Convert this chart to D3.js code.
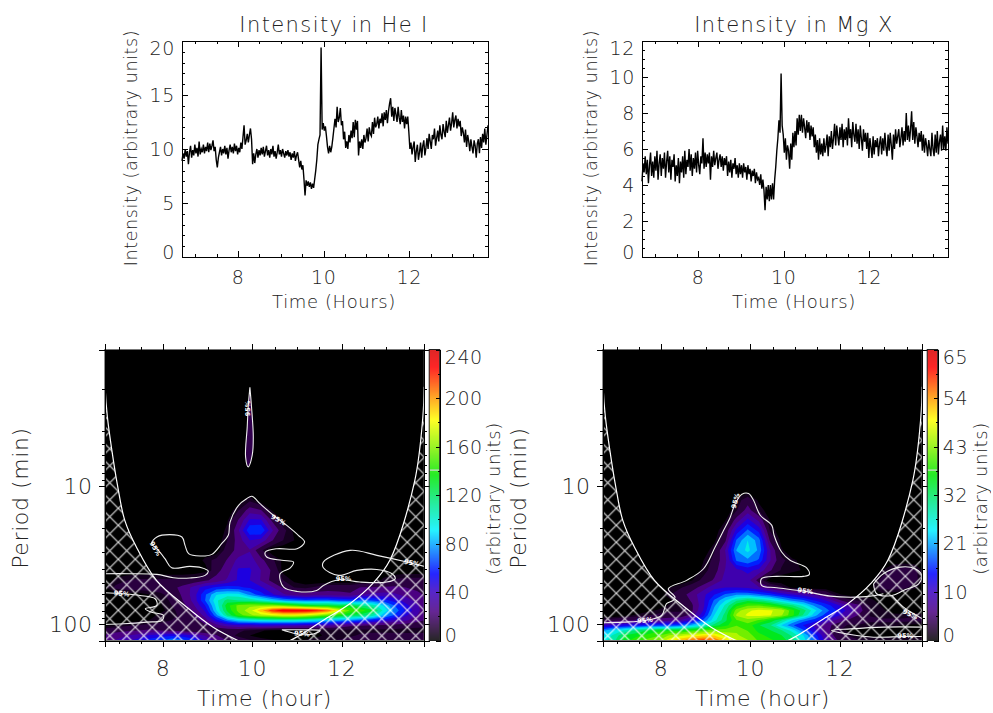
<!DOCTYPE html>
<html lang="en">
<meta charset="utf-8">
<head>
    <script src='https://d3js.org/d3.v7.min.js'></script>
    <style>
        body { margin: 0; background: #fff; }
        svg { opacity: 0.999; }
        text { font-family: "DejaVu Sans", sans-serif; font-weight: 200; fill: #222; letter-spacing: 0.6px; }
        .tick line, .domain { shape-rendering: crispEdges; }
    </style>
</head>
<body>
<svg width="993" height="713"></svg>
<script>
// light curves, one sample every 0.025 h from 6.69 h
var heIntensity = [
    8.9,9.6,9.1,10.0,9.3,9.8,8.6,9.7,10.3,9.2,
    9.9,9.4,10.4,9.6,10.1,9.3,10.7,9.5,10.0,9.7,
    10.4,9.6,10.2,9.8,10.6,9.7,10.5,9.9,10.3,10.8,
    9.8,10.2,9.0,8.3,9.2,9.7,10.2,9.4,10.0,9.6,
    10.3,9.5,10.1,9.1,9.9,10.4,9.7,10.2,9.6,10.5,
    9.8,10.3,9.5,10.1,9.7,10.6,10.0,11.1,12.2,10.4,
    10.8,11.4,10.6,11.3,11.9,10.9,8.6,9.6,8.7,9.5,
    10.0,9.2,9.9,9.4,10.1,9.5,10.2,9.3,9.8,10.3,
    9.4,9.9,9.2,10.0,9.5,10.3,9.3,9.8,9.1,9.7,
    10.4,9.5,9.9,9.3,10.0,9.6,9.2,9.8,9.4,9.9,
    9.3,9.7,9.0,9.6,9.2,9.8,8.9,9.4,9.7,9.0,
    8.3,8.9,8.1,8.5,7.2,5.7,7.1,6.6,7.0,6.5,
    6.9,6.3,6.8,6.4,7.2,8.0,9.0,10.4,10.9,11.3,
    19.4,11.8,12.4,11.7,12.1,11.2,10.2,9.6,10.3,9.7,
    10.2,11.0,11.9,12.8,12.0,13.9,12.5,12.9,13.8,12.2,
    12.6,10.9,11.6,10.1,10.7,10.0,11.3,10.6,11.7,11.0,
    12.5,11.1,12.7,11.8,12.6,9.4,10.7,10.1,10.9,10.0,
    11.3,10.6,11.0,11.9,10.7,12.0,11.4,11.2,12.5,11.4,
    12.9,12.0,12.3,13.0,11.9,12.8,12.4,13.3,12.1,13.4,
    12.7,13.6,12.4,13.5,14.2,14.7,13.0,13.9,12.6,13.8,
    13.2,12.5,13.9,12.9,12.3,13.6,12.5,13.1,11.9,13.0,
    12.3,13.0,11.6,10.0,10.6,9.5,10.2,10.7,8.8,9.8,
    10.4,9.0,9.7,10.6,9.2,10.3,10.8,9.4,10.1,11.0,
    10.0,11.4,10.7,10.0,11.3,10.9,11.9,10.3,11.0,11.7,
    10.7,12.2,11.3,10.9,12.3,11.6,11.1,12.6,11.5,12.2,
    12.9,11.7,12.4,13.4,12.0,12.7,13.1,11.9,12.8,12.1,
    12.6,11.2,12.0,11.5,10.6,11.8,10.2,11.3,10.7,9.8,
    10.9,10.2,9.6,10.8,10.3,9.2,10.5,10.9,9.6,11.1,
    10.1,11.4,10.6,11.9,10.4,11.3,12.2
];
var mgIntensity = [
    4.2,5.2,4.7,5.6,4.6,5.4,4.1,5.1,5.8,4.5,
    5.3,4.4,5.6,4.8,5.9,4.3,5.2,5.7,4.5,5.5,
    4.9,5.8,4.4,5.3,5.9,4.7,5.6,4.3,5.4,5.0,
    5.7,4.2,5.1,4.5,5.5,4.1,5.3,4.7,5.6,4.4,
    5.9,4.6,5.4,5.0,6.0,4.8,5.7,4.5,5.5,4.9,
    5.8,4.7,5.9,5.1,4.6,5.6,5.2,6.6,4.9,5.8,
    5.0,5.7,5.2,5.8,4.3,5.6,5.0,5.9,5.1,5.5,
    5.8,4.9,5.4,5.7,5.0,5.6,4.8,5.5,5.1,5.6,
    4.5,5.3,4.7,5.4,4.4,5.2,4.9,5.5,4.6,5.1,
    4.4,5.2,4.6,5.1,4.4,5.2,4.7,5.0,4.3,5.1,
    4.6,4.9,4.2,4.8,4.5,4.9,4.1,4.7,4.3,4.4,
    4.0,4.6,3.8,4.3,3.7,2.6,3.9,3.2,4.0,3.1,
    4.0,3.2,4.1,3.2,4.3,5.0,5.9,6.6,7.6,6.9,
    10.2,7.3,6.8,5.8,6.6,5.4,6.2,5.9,4.9,6.3,
    5.4,6.9,6.1,7.0,6.2,7.7,6.8,7.9,7.0,7.9,
    6.9,7.7,7.2,6.6,7.6,6.9,7.5,6.5,7.3,6.7,
    7.2,6.1,6.8,5.8,6.5,5.4,6.6,5.7,6.3,5.6,
    6.6,5.8,6.2,6.8,5.6,6.7,6.1,7.0,6.0,6.6,
    7.4,6.2,7.3,6.7,6.2,7.2,6.5,7.4,6.1,7.1,
    6.5,7.2,6.2,7.7,6.6,7.1,6.1,7.5,6.8,6.4,
    7.4,6.3,7.1,6.0,7.3,6.6,5.9,7.1,6.4,6.9,
    6.0,6.9,5.5,6.6,6.1,5.5,6.7,5.7,6.5,6.1,
    6.6,5.6,6.3,6.7,5.7,6.6,5.9,6.9,6.1,5.6,
    6.8,5.9,6.9,6.2,5.4,6.8,6.0,7.1,6.3,6.7,
    7.1,6.1,6.6,7.2,6.2,7.0,6.4,8.0,6.5,7.3,
    6.4,7.1,8.1,6.5,7.5,6.3,7.2,6.7,6.1,6.9,
    6.4,7.0,5.9,6.8,5.8,6.6,6.2,5.6,6.5,6.0,
    5.6,6.9,6.0,5.6,6.8,5.8,7.0,5.7,6.4,6.8,
    5.9,7.3,6.0,6.7,5.9,7.2,6.3
];

// wavelet power, sampled on these periods (rows) and every 0.25 h from 6.69 h (columns)
var gridPeriods = [9.09,10.7,12.7,15.0,17.7,20.9,24.7,29.2,34.5,40.8,48.2,54.2,60.9,67.3,73.2,79.6,86.2,93.7,101.7,111,120.8,133];
var gridCols = 30;

var hePower = [
    [0,0,0,0,0,0,0,0,0,0,0,0,0,0,0,0,0,0,0,0,0,0,0,0,0,0,0,0,0,0],
    [0,0,0,0,0,0,0,0,0,0,0,0,0,0,0,0,0,0,0,0,0,0,0,0,0,0,0,0,0,0],
    [0,0,0,0,0,0,0,0,0,0,0,0,0,10,0,0,0,0,0,0,0,0,0,0,0,0,0,0,0,0],
    [0,0,0,0,0,0,0,0,0,0,0,0,12,30,25,5,0,0,0,0,0,0,0,0,0,0,0,0,0,0],
    [0,0,0,0,0,0,0,0,0,0,0,5,25,50,50,22,5,0,0,0,0,0,0,0,0,0,0,0,0,0],
    [0,0,0,0,0,0,0,0,0,0,0,8,35,70,72,38,15,4,0,0,0,0,0,0,0,0,0,0,0,0],
    [0,0,0,0,0,0,0,0,0,0,0,12,30,48,44,25,12,6,1,0,0,0,0,0,0,0,0,0,0,0],
    [0,0,0,0,0,0,0,0,0,0,0,18,28,35,14,0,0,0,0,0,0,0,0,0,0,0,0,0,0,0],
    [0,0,0,0,0,0,0,0,0,8,15,25,40,42,28,14,4,0,0,0,0,0,0,0,0,0,0,0,0,0],
    [0,0,0,0,0,0,0,0,0,2,20,30,50,50,36,22,3,0,0,0,0,0,0,0,0,0,0,0,0,0],
    [0,8,12,14,14,14,14,14,16,22,28,38,50,48,35,20,12,4,0,0,0,0,0,0,0,8,14,16,16,16],
    [5,14,18,18,18,18,20,28,40,55,62,65,62,58,50,38,22,12,10,14,18,18,18,25,25,26,26,24,22,20],
    [0,3,2,2,6,10,16,26,42,70,95,100,100,80,65,50,38,30,28,30,30,28,26,35,38,40,38,32,26,22],
    [0,0,0,0,2,6,14,24,40,72,105,125,120,118,108,95,85,80,75,78,78,72,68,78,72,65,55,42,32,24],
    [0,0,0,0,0,5,12,20,35,60,100,140,160,165,165,165,160,150,140,135,135,128,135,120,115,95,72,52,38,25],
    [0,0,0,0,0,3,10,16,28,50,95,135,160,175,200,225,238,240,238,230,215,185,155,150,135,105,80,58,40,25],
    [0,0,0,2,3,8,10,14,24,40,80,122,150,165,175,180,185,185,180,170,160,145,130,125,115,90,70,50,36,25],
    [0,0,2,4,6,10,12,12,18,30,55,80,95,100,105,108,108,108,105,100,90,85,80,72,62,55,45,38,28,22],
    [4,6,10,12,14,14,14,12,14,22,32,42,48,48,50,50,48,48,45,42,40,35,28,26,24,22,20,18,16,15],
    [18,20,22,24,26,24,22,18,14,12,14,16,14,10,7,4,3,3,4,6,8,9,9,9,9,9,9,8,8,8],
    [25,30,36,40,50,55,58,55,48,35,25,16,10,6,3,1,0,1,2,4,8,8,10,14,16,16,16,16,16,16],
    [30,38,48,55,68,75,85,80,70,50,35,25,20,14,10,8,6,6,8,10,12,14,18,22,24,24,24,24,22,20]
];
var mgPower = [
    [0,0,0,0,0,0,0,0,0,0,0,0,0,0,0,0,0,0,0,0,0,0,0,0,0,0,0,0,0,0],
    [0,0,0,0,0,0,0,0,0,0,0,0,0,0,0,0,0,0,0,0,0,0,0,0,0,0,0,0,0,0],
    [0,0,0,0,0,0,0,0,0,0,0,0,2,5,1,0,0,0,0,0,0,0,0,0,0,0,0,0,0,0],
    [0,0,0,0,0,0,0,0,0,0,0,0,3,8,3,0,0,0,0,0,0,0,0,0,0,0,0,0,0,0],
    [0,0,0,0,0,0,0,0,0,0,0,1.5,8,14,9,1.5,0,0,0,0,0,0,0,0,0,0,0,0,0,0],
    [0,0,0,0,0,0,0,0,0,0,0,4,14,20,15,3,0,0,0,0,0,0,0,0,0,0,0,0,0,0],
    [0,0,0,0,0,0,0,0,0,0,1,6,20,26,21,6,1,0,0,0,0,0,0,0,0,0,0,0,0,0],
    [0,0,0,0,0,0,0,0,0,0,3,10,23,27,22,10,2,0,0,0,0,0,0,0,0,0,0,0,0,0],
    [0,0,0,0,0,0,0,0,0,1.5,4,9,20,22,19,10,4,2,1,0,0,0,0,0,0,0,0,0,0,0],
    [0,0,0,0,0,0,0,0,0.5,2,5,10,12,14,12,7,3,2,1.5,0,0,0,0,0,0,1.5,4,5,4,0],
    [0,0,0,0,0,0,0,0,1.5,4,7,11,11,11,5,0,0,0,0,0,0,0,0,0,0,4,5,5,4,1],
    [0,0,0,0,0,0,1.5,3,5,8,12,13,13,12,10,7,4,1,0,0,0,0,0,0,1,4,5,4,2,0],
    [0,0,0,0,0,0,3,5,8,12,16,20,22,22,20,18,15,13,11,9,6,2,1,0.5,1,1,0,0,0,0],
    [0,0,0,0,0,0,1,4,7,12,20,26,32,35,33,30,26,22,20,16,13,8,4,3,2,1,0,0,0,0],
    [0,0,0,0,0,0,2,3,6,12,22,30,38,42,42,40,36,33,28,22,18,14,10,7,3,1.5,0.5,0,0,0],
    [0,0,0,0,1,2,3,3,6,13,24,32,44,48,50,49,48,40,34,27,21,16,12,8,3,2,1,0.5,0,0],
    [0,0,1,2,3,4,4,4,8,15,26,34,46,49.5,50,49,46,40,32,24,18,14,10,6,3,2,2,2,3,2],
    [4,5,6,7,8,8,9,10,14,20,28,35,42,44,42,38,33,26,21,18,13,9,6,5,4,4,4,4,4,4],
    [12,14,15,16,17,18,18,20,24,28,34,38,42,41,36,33,26,20,16,12,8,5,3,3,2,2,2,1.5,1,1],
    [22,26,30,33,36,38,38,38,40,42,44,44,45,42,38,36,33,28,20,14,8,4,1,0.5,1,1,1,1,1,1],
    [26,30,36,38,40,42,46,48,50,52,52,48,46,44,40,38,36,32,26,18,10,5,3,1,1,1,1,1,1,1],
    [28,32,38,42,44,46,52,56,60,62,60,54,50,46,42,40,38,34,28,20,12,7,6,4,4,3,3,3,3,3]
];

// cone of influence
var coiLeftTime = [6.69,6.70,6.75,6.85,6.97,7.14,7.40,7.85,8.53,9.12,9.72];
var coiLeftLogP = [0.013,0.294,0.5,0.741,0.983,1.249,1.442,1.683,1.877,2.022,2.125];
var coiRightTime = [10.80,11.13,11.58,12.19,12.70,13.08,13.64,13.82,13.85];
var coiRightLogP = [2.125,2.067,1.973,1.85,1.705,1.538,0.959,0.5,0.283];

// 95% significance contours
var heContourTime = [
    [6.69,7.26,7.86,8.23,8.60,8.94,9.01,8.86,8.60,8.19,8.04,7.86,7.74,7.86,8.15,8.42,8.49,8.57,8.83,9.09,9.31,9.46,9.50,9.69,9.87,9.99,10.17,10.47,10.77,11.03,11.17,11.00,10.55,10.29,10.32,10.66,10.92,10.85,10.62,10.70,11.00,11.44,11.59,11.93,12.41,13.01,13.20,13.13,12.79,12.34,11.93,11.59,11.59,12.19,12.79,13.46,13.85],
    [6.69,7.07,7.48,7.82,7.86,7.60,7.74,8.01,7.97,7.63,7.11,6.69],
    [10.66,10.92,11.30,11.52,11.14,10.66],
    [9.944,9.98,10.02,9.996,9.906,9.847,9.884,9.906,9.944]
];
var heContourLogP = [
    [1.635,1.635,1.640,1.664,1.666,1.647,1.616,1.592,1.582,1.592,1.526,1.454,1.418,1.369,1.352,1.369,1.430,1.490,1.507,1.495,1.418,1.357,1.261,1.140,1.092,1.075,1.128,1.212,1.285,1.357,1.406,1.454,1.454,1.478,1.514,1.538,1.550,1.592,1.635,1.732,1.763,1.756,1.720,1.678,1.695,1.695,1.671,1.635,1.604,1.611,1.647,1.592,1.551,1.466,1.502,1.550,1.582],
    [1.773,1.780,1.792,1.816,1.864,1.889,1.913,1.937,1.973,1.985,1.997,2.002],
    [2.041,2.065,2.075,2.046,2.041,2.041],
    [0.287,0.4275,0.645,0.7775,0.862,0.79,0.5725,0.4275,0.287]
];
var mgContourTime = [
    [6.69,7.15,7.64,8.01,8.12,8.27,8.31,8.16,8.57,8.95,9.21,9.40,9.55,9.66,9.81,9.96,10.07,10.22,10.48,10.53,10.70,10.89,11.26,11.32,11.19,10.59,10.25,10.25,10.59,11.19,11.79,12.39,12.80,12.98],
    [12.76,12.98,13.36,13.69,13.84,13.77,13.43,13.17,12.83,12.76],
    [13.17,13.43,13.66,13.85],
    [13.85,12.98,12.24,11.82,12.24,12.76,13.43,13.85]
];
var mgContourLogP = [
    [1.990,1.985,1.973,1.937,1.852,1.828,1.804,1.744,1.683,1.599,1.442,1.321,1.224,1.128,1.060,1.055,1.104,1.212,1.285,1.357,1.478,1.538,1.592,1.640,1.654,1.654,1.671,1.720,1.736,1.761,1.797,1.804,1.792,1.780],
    [1.708,1.635,1.587,1.599,1.647,1.708,1.756,1.792,1.780,1.708],
    [1.792,1.877,1.925,1.961],
    [2.021,2.021,2.034,2.046,2.075,2.094,2.089,2.089]
];
var heLabelTime = [10.58,7.82,12.04,13.57,7.07,11.11,9.9];
var heLabelLogP = [1.248,1.454,1.676,1.558,1.780,2.070,0.44];
var heLabelAngle = [30,60,0,10,5,5,-90];
var mgLabelTime = [9.67,11.23,7.64,13.58,13.47];
var mgLabelLogP = [1.108,1.761,1.973,1.930,2.087];
var mgLabelAngle = [-75,8,-5,25,0];

var heBarTicks = [0,40,80,120,160,200,240];
var heBarLabels = ["0","40","80","120","160","200","240"];
var mgBarTicks = [0,10.83,21.67,32.5,43.33,54.17,65];
var mgBarLabels = ["0","10","21","32","43","54","65"];

var timeDomain = [6.69,13.84];
var sampleStep = 0.025, gridStep = 0.25;

var svg = d3.select("svg");

// IDL-like rainbow with black bottom
var stops = d3.scaleLinear()
    .domain([0,0.05,0.10,0.17,0.23,0.31,0.38,0.47,0.57,0.66,0.76,0.83,0.94,1])
    .range(["#000000","#2a0040","#4b0082","#3a00c0","#0000ff","#0080ff","#00f0ff","#00e890","#00e800","#80f000","#ffff00","#ffa000","#ff0000","#d80000"]);

function minorTicks(lo, hi, step, skip) {
    return d3.range(lo, hi + step/2, step).filter(function(v) { return Math.abs(v/skip - Math.round(v/skip)) > 1e-6; });
}

// ticks on all four sides of a line plot
function frameAxes(g, x, y, xMajor, xMinor, yMajor, yMinor, w, h, size) {
    var blank = function() { return ""; };
    [[xMajor, size], [xMinor, size/2]].forEach(function(p) {
        g.append("g").attr("transform", "translate(0," + h + ")").call(d3.axisBottom(x).tickValues(p[0]).tickSize(-p[1]).tickFormat(blank));
        g.append("g").call(d3.axisTop(x).tickValues(p[0]).tickSize(-p[1]).tickFormat(blank));
    });
    [[yMajor, size], [yMinor, size/2]].forEach(function(p) {
        g.append("g").call(d3.axisLeft(y).tickValues(p[0]).tickSize(-p[1]).tickFormat(blank));
        g.append("g").attr("transform", "translate(" + w + ",0)").call(d3.axisRight(y).tickValues(p[0]).tickSize(-p[1]).tickFormat(blank));
    });
}

function linePanel(left, title, values, yMax, yMajor, yMinor) {
    var w = 306, h = 216, top = 41;
    var g = svg.append("g").attr("transform", "translate(" + left + "," + top + ")");
    var x = d3.scaleLinear().domain(timeDomain).range([0, w]);
    var y = d3.scaleLinear().domain([0, yMax]).range([h, 0]);

    g.append("path")
        .attr("fill", "none").attr("stroke", "#000").attr("stroke-width", 1.4)
        .attr("d", d3.line().x(function(d, i) { return x(timeDomain[0] + i*sampleStep); }).y(function(d) { return y(d); })(values));

    frameAxes(g, x, y, [8,10,12], minorTicks(7,13.5,0.5,2), yMajor, yMinor, w, h, 6);

    [8,10,12].forEach(function(t) {
        g.append("text").attr("x", x(t)).attr("y", h + 27).attr("text-anchor", "middle").attr("font-size", 19).text(t);
    });
    yMajor.forEach(function(v) {
        var shift = v == 0 ? -5 : (v == yMax ? 7 : 0);
        g.append("text").attr("x", -7).attr("y", y(v) + shift + 7).attr("text-anchor", "end").attr("font-size", 19).text(v);
    });
    g.append("text").attr("x", w/2 - 1).attr("y", -9).attr("text-anchor", "middle").attr("font-size", 21).style("letter-spacing", "1.4px").text(title);
    g.append("text").attr("x", w/2 - 1).attr("y", h + 51).attr("text-anchor", "middle").attr("font-size", 18).text("Time (Hours)");
    g.append("text").attr("transform", "translate(-45," + (h/2 - 1) + ") rotate(-90)").attr("text-anchor", "middle").attr("font-size", 17.5).text("Intensity (arbitrary units)");
}

function wavePanel(id, left, power, maxVal, contourT, contourL, labT, labL, labA, barTicks, barLabels, barTitleX) {
    var w = 319.5, h = 291, top = 349.5;
    var g = svg.append("g").attr("transform", "translate(" + left + "," + top + ")");
    var x = d3.scaleLinear().domain([6.69,13.85]).range([0, w]);
    var y = d3.scaleLog().domain([10**0.013, 10**2.118]).range([0, h]);

    var defs = g.append("defs");
    defs.append("clipPath").attr("id", "clip" + id).append("rect").attr("width", w).attr("height", h);
    var pat = defs.append("pattern").attr("id", "hatch" + id).attr("patternUnits", "userSpaceOnUse")
        .attr("width", 17).attr("height", 17).attr("patternTransform", "translate(13.6,5.8)");
    pat.append("path").attr("d", "M0,0L17,17M0,17L17,0").attr("stroke", "#fff").attr("stroke-width", 1.2).attr("stroke-opacity", 0.85);

    var plot = g.append("g").attr("clip-path", "url(#clip" + id + ")");
    plot.append("rect").attr("width", w).attr("height", h).attr("fill", "#000");

    // filled contours, grid index -> time/period through the scales
    var flat = d3.merge(power);
    var levels = d3.range(1, 21).map(function(i) { return i*maxVal/20; });
    levels.unshift(maxVal*0.025);
    var rowY = d3.scaleLinear().domain(d3.range(gridPeriods.length)).range(gridPeriods.map(function(p) { return y(p); }));
    var proj = d3.geoTransform({ point: function(a, b) {
        var px = x(timeDomain[0] + (a - 0.5)*gridStep);
        var py = b < 0.5 ? rowY(0) : rowY(b - 0.5);
        if (b > gridPeriods.length - 0.5) py = h + 5;
        this.stream.point(px, py);
    }});
    var path = d3.geoPath(proj);
    var contours = d3.contours().size([gridCols, gridPeriods.length]).thresholds(levels)(flat);
    plot.selectAll(".band").data(contours).enter().append("path")
        .attr("class", "band").attr("d", path)
        .attr("fill", function(d) { return stops(d.value/maxVal); });

    // cone of influence hatching
    var area = d3.line().x(function(d) { return x(d[0]); }).y(function(d) { return y(10**d[1]); });
    var leftPts = coiLeftTime.map(function(t, i) { return [t, coiLeftLogP[i]]; });
    var rightPts = coiRightTime.map(function(t, i) { return [t, coiRightLogP[i]]; });
    var curve = d3.line().curve(d3.curveCatmullRom).x(area.x()).y(area.y());

    plot.append("path").attr("d", curve(leftPts) + "L" + x(6.69) + "," + h + "Z").attr("fill", "url(#hatch" + id + ")");
    plot.append("path").attr("d", curve(rightPts) + "L" + x(13.85) + "," + y(10**0.013) + "L" + w + "," + h + "Z").attr("fill", "url(#hatch" + id + ")");
    [leftPts, rightPts].forEach(function(p) {
        plot.append("path").attr("d", curve(p)).attr("fill", "none").attr("stroke", "#fff").attr("stroke-width", 1.2);
    });

    // 95% lines
    contourT.forEach(function(ts, k) {
        var pts = ts.map(function(t, i) { return [t, contourL[k][i]]; });
        var spindle = id == "he" && k == 3;
        plot.append("path").attr("d", curve(pts))
            .attr("fill", spindle ? stops(0.06) : "none")
            .attr("stroke", "#eee").attr("stroke-width", 1.1);
    });
    labT.forEach(function(t, i) {
        plot.append("text")
            .attr("transform", "translate(" + x(t) + "," + y(10**labL[i]) + ") rotate(" + labA[i] + ")")
            .attr("text-anchor", "middle").attr("dy", 2).attr("font-size", 6.5)
            .style("fill", "#fff").style("font-weight", 700).style("letter-spacing", 0).text("95%");
    });

    // frame and outward ticks
    g.append("rect").attr("width", w).attr("height", h).attr("fill", "none").attr("stroke", "#777").attr("stroke-width", 1);
    var blank = function() { return ""; };
    [[[8,10,12], 6], [minorTicks(7,13.5,0.5,2), 3]].forEach(function(p) {
        g.append("g").attr("transform", "translate(0," + h + ")").call(d3.axisBottom(x).tickValues(p[0]).tickSize(p[1]).tickFormat(blank));
        g.append("g").call(d3.axisTop(x).tickValues(p[0]).tickSize(p[1]).tickFormat(blank));
    });
    var logMinor = [2,3,4,5,6,7,8,9,20,30,40,50,60,70,80,90];
    [[[10,100], 6], [logMinor, 3]].forEach(function(p) {
        g.append("g").call(d3.axisLeft(y).tickValues(p[0]).tickSize(p[1]).tickFormat(blank));
        g.append("g").attr("transform", "translate(" + w + ",0)").call(d3.axisRight(y).tickValues(p[0]).tickSize(p[1]).tickFormat(blank));
    });

    [8,10,12].forEach(function(t) {
        g.append("text").attr("x", x(t)).attr("y", h + 35).attr("text-anchor", "middle").attr("font-size", 22).text(t);
    });
    [10,100].forEach(function(p) {
        g.append("text").attr("x", -12).attr("y", y(p) + 8).attr("text-anchor", "end").attr("font-size", 22).text(p);
    });
    g.append("text").attr("x", w/2).attr("y", h + 65).attr("text-anchor", "middle").attr("font-size", 22).text("Time (hour)");
    g.append("text").attr("transform", "translate(-77," + (h/2 + 3) + ") rotate(-90)").attr("text-anchor", "middle").attr("font-size", 22).text("Period (min)");

    // colour bar
    var bw = 10.5, bx = w + 5;
    var bar = g.append("g").attr("transform", "translate(" + bx + ",0)");
    var by = d3.scaleLinear().domain([0, maxVal]).range([291, 0]);
    bar.selectAll("rect").data(d3.range(0, 291)).enter().append("rect")
        .attr("y", function(d) { return d; }).attr("width", bw).attr("height", 1.2)
        .attr("fill", function(d) { return stops(1 - d/291); });
    bar.append("rect").attr("y", 120).attr("width", bw).attr("height", 1.2).attr("fill", "#d8d8d8");
    bar.append("rect").attr("width", bw).attr("height", 291).attr("fill", "none").attr("stroke", "#222").attr("stroke-width", 1);
    var sub = d3.range(0, 49).map(function(i) { return i*maxVal/48; });
    bar.append("g").attr("transform", "translate(" + bw + ",0)").call(d3.axisRight(by).tickValues(barTicks).tickSize(-4).tickFormat(blank));
    bar.append("g").attr("transform", "translate(" + bw + ",0)").call(d3.axisRight(by).tickValues(sub.filter(function(v, i) { return i % 4 == 0 && i % 8 != 0; })).tickSize(-2).tickFormat(blank));
    barTicks.forEach(function(v, i) {
        var shift = i == 0 ? -6 : (i == barTicks.length - 1 ? 7 : 0);
        bar.append("text").attr("x", bw + 5).attr("y", by(v) + shift + 7).attr("font-size", 19).text(barLabels[i]);
    });
    bar.append("text").attr("transform", "translate(" + (bw + barTitleX) + ",149) rotate(-90)").attr("text-anchor", "middle").attr("font-size", 18).text("(arbitrary units)");
}

linePanel(182, "Intensity in He I", heIntensity, 20, [0,5,10,15,20], minorTicks(0,20,1,5));
linePanel(642, "Intensity in Mg X", mgIntensity, 12, [0,2,4,6,8,10,12], minorTicks(0,12,0.5,2));
wavePanel("he", 104.7, hePower, 240, heContourTime, heContourLogP, heLabelTime, heLabelLogP, heLabelAngle, heBarTicks, heBarLabels, 60);
wavePanel("mg", 602.7, mgPower, 65, mgContourTime, mgContourLogP, mgLabelTime, mgLabelLogP, mgLabelAngle, mgBarTicks, mgBarLabels, 49);
</script>
</body>
</html>
